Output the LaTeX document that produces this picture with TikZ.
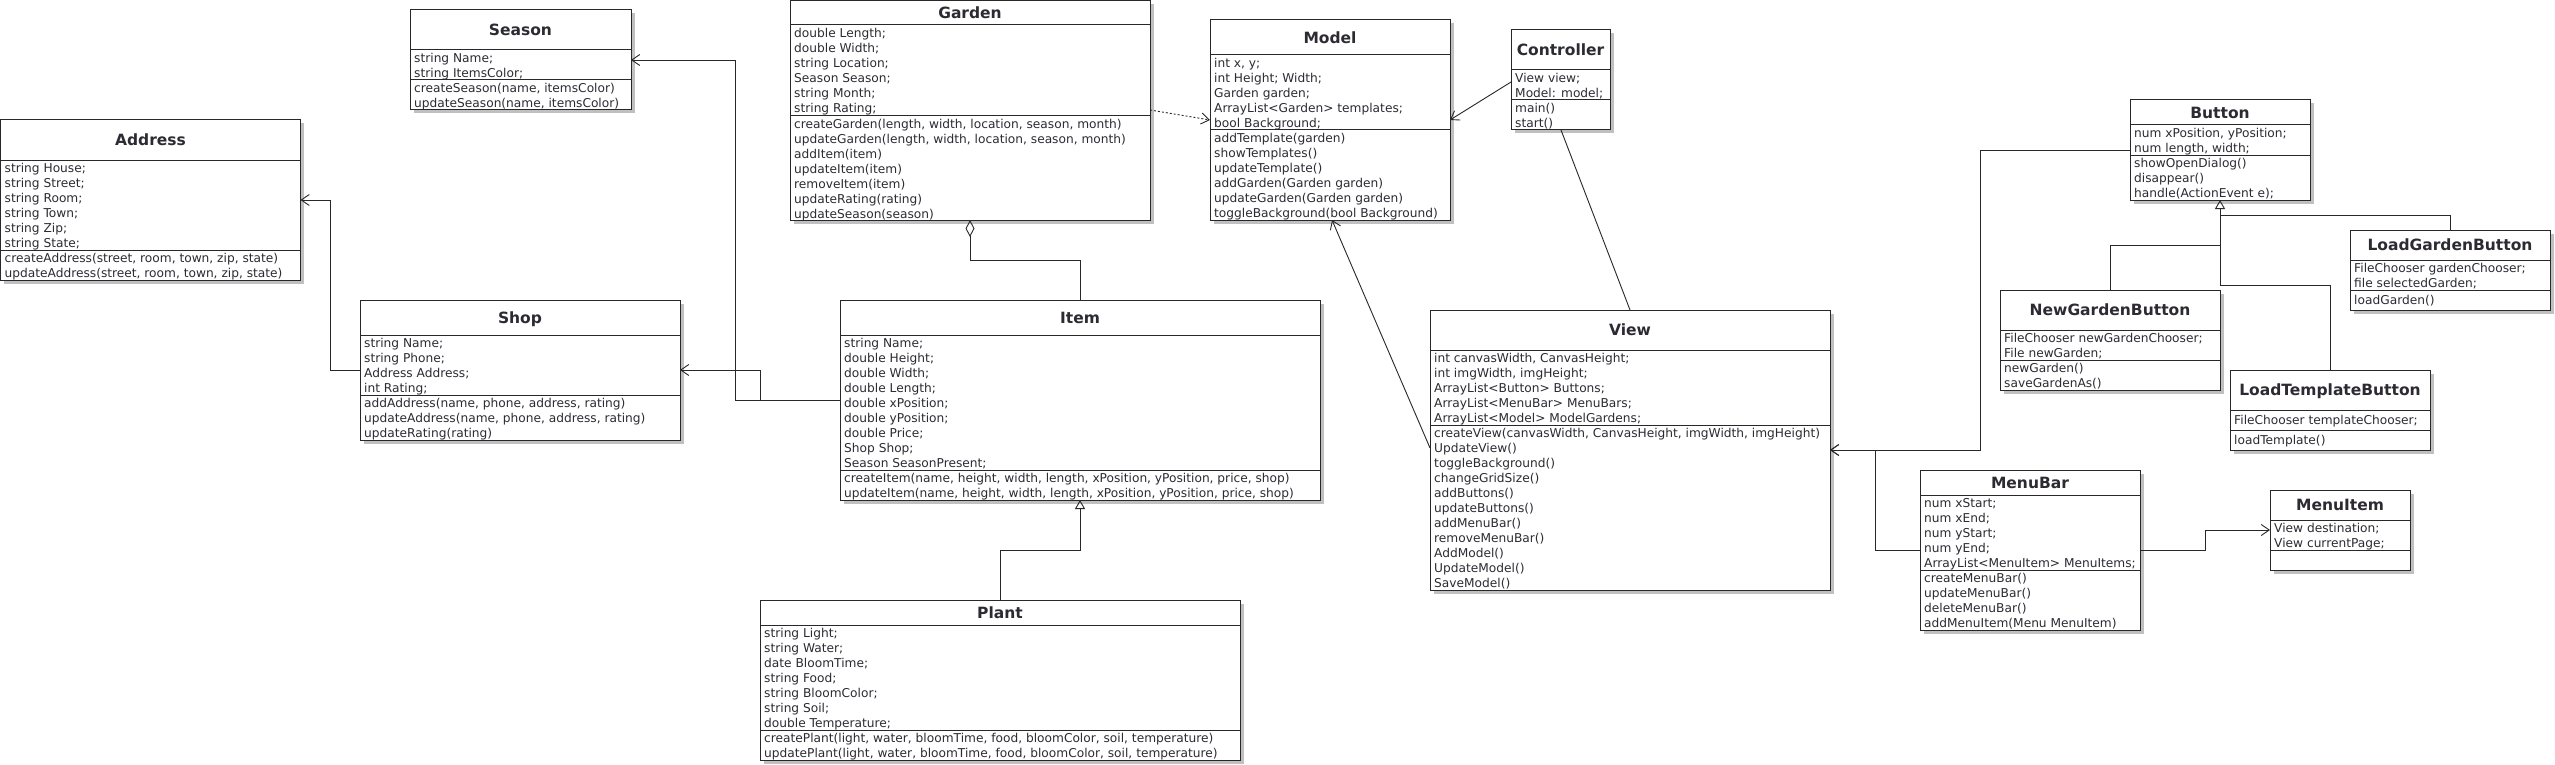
\documentclass[tikz,border=0pt]{standalone}
\usepackage{fontspec}
\setmainfont{DejaVu Sans}
\usetikzlibrary{arrows.meta,calc}
\definecolor{ink}{RGB}{45,42,50}
\definecolor{lin}{RGB}{40,40,40}
\definecolor{shad}{RGB}{192,192,192}
\tikzset{
  box/.style={draw=lin, line width=1pt, fill=white, inner sep=0pt, outer sep=0pt, anchor=north west},
  sepline/.style={draw=lin, line width=1pt},
  txt/.style={text=ink, inner sep=0pt, anchor=base west, font=\fontsize{12.2}{15}\selectfont},
  ttl/.style={text=ink, inner sep=0pt, anchor=base, font=\fontsize{15.5}{18}\selectfont\bfseries},
  conn/.style={draw=lin, line width=0.9pt},
  assoc/.style={conn, -{Straight Barb[length=8pt,width=11pt]}},
  dep/.style={assoc, dash pattern=on 2pt off 2pt},
  gen/.style={conn, {Triangle[open,length=9pt,width=10pt]}-},
  agg/.style={conn, {Diamond[open,length=17pt,width=9pt]}-},
}
\newcommand\classbox[7]{% name, x, y, w, h, title height, title
  \fill[shad] (#2+3.5,#3+3.5) rectangle ++(#4,#5);
  \node[box, minimum width=#4pt, minimum height=#5pt] (#1) at (#2,#3) {};
  \node[ttl] (#1-title) at (#2+#4/2, #3+#6/2+5.8) {#7};
}
\newcommand\sect[6]{% name, xl, xr, yline, first baseline, list
  \draw[sepline] (#2,#4) -- (#3,#4);
  \foreach \lbl [count=\i from 0] in {#6}
    \node[txt] (#1-\i) at (#2+4, #5+15*\i) {\lbl};
}
\begin{document}
\begin{tikzpicture}[x=1pt,y=-1pt]
\fill[white] (0,0) rectangle (2555,765);
\useasboundingbox (0,0) rectangle (2555,765);

% Season
\classbox{season}{410}{10}{221}{100}{40}{Season}
\sect{season-a}{410}{631}{50}{62.3}{{string Name;},{string ItemsColor;}}
\sect{season-m}{410}{631}{80}{92.3}{{createSeason(name, itemsColor)},{updateSeason(name, itemsColor)}}

% Address
\classbox{address}{0.5}{120}{300}{160}{40}{Address}
\sect{address-a}{0.5}{300.5}{160}{172.3}{{string House;},{string Street;},{string Room;},{string Town;},{string Zip;},{string State;}}
\sect{address-m}{0.5}{300.5}{250}{262.3}{{createAddress(street, room, town, zip, state)},{updateAddress(street, room, town, zip, state)}}

% Garden
\classbox{garden}{790}{0.5}{360}{219.5}{25}{Garden}
\sect{garden-a}{790}{1150}{25}{37.3}{{double Length;},{double Width;},{string Location;},{Season Season;},{string Month;},{string Rating;}}
\sect{garden-m}{790}{1150}{116}{128.3}{{createGarden(length, width, location, season, month)},{updateGarden(length, width, location, season, month)},{addItem(item)},{updateItem(item)},{removeItem(item)},{updateRating(rating)},{updateSeason(season)}}

% Model
\classbox{model}{1210}{20}{240}{200}{35}{Model}
\sect{model-a}{1210}{1450}{55}{67.3}{{int x, y;},{int Height; Width;},{Garden garden;},{ArrayList<Garden> templates;},{bool Background;}}
\sect{model-m}{1210}{1450}{130}{142.3}{{addTemplate(garden)},{showTemplates()},{updateTemplate()},{addGarden(Garden garden)},{updateGarden(Garden garden)},{toggleBackground(bool Background)}}

% Controller
\classbox{controller}{1511}{30}{99}{100}{40}{Controller}
\sect{controller-a}{1511}{1610}{70}{82.3}{{View view;},{Model: model;}}
\sect{controller-m}{1511}{1610}{100}{112.3}{{main()},{start()}}

% Shop
\classbox{shop}{360}{300}{320}{140}{35}{Shop}
\sect{shop-a}{360}{680}{335}{347.3}{{string Name;},{string Phone;},{Address Address;},{int Rating;}}
\sect{shop-m}{360}{680}{395}{407.3}{{addAddress(name, phone, address, rating)},{updateAddress(name, phone, address, rating)},{updateRating(rating)}}

% Item
\classbox{item}{840}{300}{480}{200}{35}{Item}
\sect{item-a}{840}{1320}{335}{347.3}{{string Name;},{double Height;},{double Width;},{double Length;},{double xPosition;},{double yPosition;},{double Price;},{Shop Shop;},{Season SeasonPresent;}}
\sect{item-m}{840}{1320}{470}{482.3}{{createItem(name, height, width, length, xPosition, yPosition, price, shop)},{updateItem(name, height, width, length, xPosition, yPosition, price, shop)}}

% Plant
\classbox{plant}{760}{600}{480}{160}{25}{Plant}
\sect{plant-a}{760}{1240}{625}{637.3}{{string Light;},{string Water;},{date BloomTime;},{string Food;},{string BloomColor;},{string Soil;},{double Temperature;}}
\sect{plant-m}{760}{1240}{730}{742.3}{{createPlant(light, water, bloomTime, food, bloomColor, soil, temperature)},{updatePlant(light, water, bloomTime, food, bloomColor, soil, temperature)}}

% View
\classbox{view}{1430}{310}{400}{280}{40}{View}
\sect{view-a}{1430}{1830}{350}{362.3}{{int canvasWidth, CanvasHeight;},{int imgWidth, imgHeight;},{ArrayList<Button> Buttons;},{ArrayList<MenuBar> MenuBars;},{ArrayList<Model> ModelGardens;}}
\sect{view-m}{1430}{1830}{425}{437.3}{{createView(canvasWidth, CanvasHeight, imgWidth, imgHeight)},{UpdateView()},{toggleBackground()},{changeGridSize()},{addButtons()},{updateButtons()},{addMenuBar()},{removeMenuBar()},{AddModel()},{UpdateModel()},{SaveModel()}}

% Button
\classbox{button}{2130}{100}{180}{100}{25}{Button}
\sect{button-a}{2130}{2310}{125}{137.3}{{num xPosition, yPosition;},{num length, width;}}
\sect{button-m}{2130}{2310}{155}{167.3}{{showOpenDialog()},{disappear()},{handle(ActionEvent e);}}

% NewGardenButton
\classbox{newgb}{2000}{290}{220}{100}{40}{NewGardenButton}
\sect{newgb-a}{2000}{2220}{330}{342.3}{{FileChooser newGardenChooser;},{File newGarden;}}
\sect{newgb-m}{2000}{2220}{360}{372.3}{{newGarden()},{saveGardenAs()}}

% LoadTemplateButton
\classbox{loadtb}{2230}{370}{200}{80}{40}{LoadTemplateButton}
\sect{loadtb-a}{2230}{2430}{410}{424.8}{{FileChooser templateChooser;}}
\sect{loadtb-m}{2230}{2430}{430}{444.8}{{loadTemplate()}}

% LoadGardenButton
\classbox{loadgb}{2350}{230}{200}{80}{30}{LoadGardenButton}
\sect{loadgb-a}{2350}{2550}{260}{272.3}{{FileChooser gardenChooser;},{file selectedGarden;}}
\sect{loadgb-m}{2350}{2550}{290}{304.8}{{loadGarden()}}

% MenuBar
\classbox{menubar}{1920}{470}{220}{160}{25}{MenuBar}
\sect{menubar-a}{1920}{2140}{495}{507.3}{{num xStart;},{num xEnd;},{num yStart;},{num yEnd;},{ArrayList<MenuItem> MenuItems;}}
\sect{menubar-m}{1920}{2140}{570}{582.3}{{createMenuBar()},{updateMenuBar()},{deleteMenuBar()},{addMenuItem(Menu MenuItem)}}

% MenuItem
\classbox{menuitem}{2270}{490}{140}{80}{30}{MenuItem}
\sect{menuitem-a}{2270}{2410}{520}{532.3}{{View destination;},{View currentPage;}}
\draw[sepline] (2270,550) -- (2410,550);

% Connectors
\draw[dep] (garden.east |- 0,110) -- (model.west |- 0,120);
\draw[assoc] (controller.west |- 0,82) -- (model.east |- 0,120);
\draw[conn] (controller.south -| 1561,0) -- (view.north -| 1630,0);
\draw[assoc] (view.west |- 0,448) -- (model.south -| 1332,0);
\draw[agg] (garden.south -| 970,0) |- (1080,260) -- (item.north -| 1080,0);
\draw[assoc] (item.west |- 0,400) -- (760,400) |- (shop.east |- 0,370);
\draw[assoc] (item.west |- 0,400) -- (735,400) |- (season.east |- 0,60);
\draw[assoc] (shop.west |- 0,370) -- (330,370) |- (address.east |- 0,200);
\draw[gen] (item.south -| 1080,0) |- (1000,550) -- (plant.north -| 1000,0);
\draw[assoc] (button.west |- 0,150) -- (1980,150) |- (view.east |- 0,450);
\draw[assoc] (menubar.west |- 0,550) -- (1875,550) |- (view.east |- 0,450);
\draw[assoc] (menubar.east |- 0,550) -- (2205,550) |- (menuitem.west |- 0,530);
\draw[gen] (button.south -| 2220,0) -- (2220,285) -| (loadtb.north -| 2330,0);
\draw[conn] (2220,215) -| (loadgb.north -| 2450,0);
\draw[conn] (2220,245) -| (newgb.north -| 2110,0);
\end{tikzpicture}
\end{document}
